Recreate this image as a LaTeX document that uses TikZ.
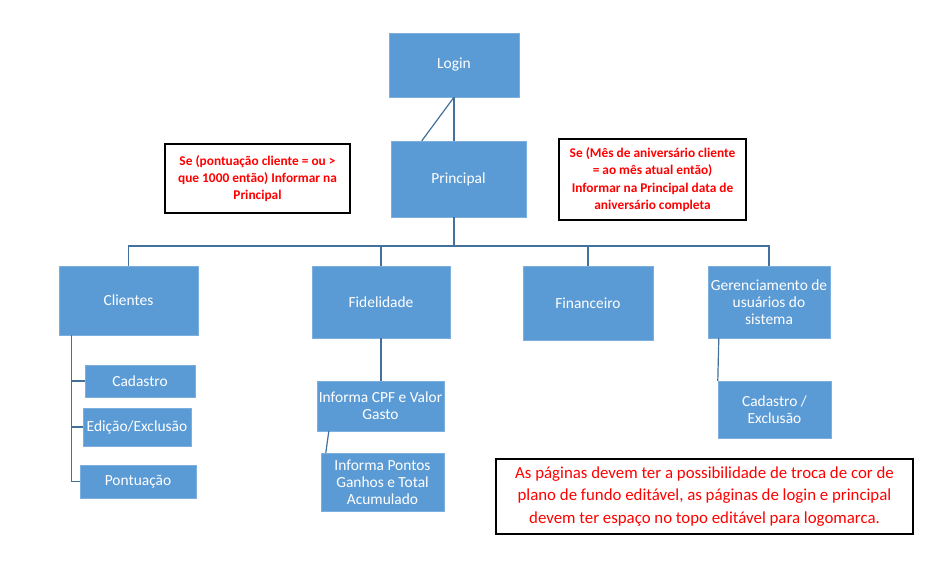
\documentclass[tikz,border=0pt]{standalone}
\usepackage{fontspec}
\setmainfont{Carlito}
\usetikzlibrary{positioning}
\definecolor{boxblue}{HTML}{5B9BD5}
\definecolor{lineblue}{HTML}{41719C}
\tikzset{x=1bp, y=-1bp,
  sz/.style 2 args={minimum width=#1bp, minimum height=#2bp},
  box/.style={fill=boxblue, draw=boxblue!80!white, text=white, align=center, inner sep=0pt, font=\fontsize{15.5}{17}\selectfont},
  note/.style={draw=black, line width=1.1bp, text=red, align=center, inner sep=0pt, font=\bfseries\fontsize{13.4}{17.4}\selectfont},
  bignote/.style={note, font=\fontsize{16.9}{22.5}\selectfont},
  link/.style={draw=lineblue, line width=1.2bp}}

\begin{document}
\begin{tikzpicture}
      \path[fill=white] (0,0) rectangle (951,567);
      \node[box, sz={130}{64}] (L) at (454,65) {Login};
      \node[box, sz={135}{76}] (P) at (458.5,179) {Principal};
      \node[note, sz={185}{69}] (N1) at (257.5,178.5) {Se (pontuação cliente = ou >\\que 1000 então) Informar na\\Principal};
      \node[note, sz={187}{81}] (N2) at (652.5,179.5) {Se (Mês de aniversário cliente\\= ao mês atual então)\\Informar na Principal data de\\aniversário completa};

      \node[box, sz={139}{69}] (C) at (128.5,300.5) {Clientes};
      \node[box, sz={138}{72}] (F) at (381,302) {Fidelidade};
      \node[box, sz={130}{74}] (Fin) at (588,303) {Financeiro};
      \node[box, sz={122}{72}] (G) at (769,302) {Gerenciamento de\\usuários do\\sistema};

      \node[box, sz={110}{32}] (Cad) at (140,381) {Cadastro};
      \node[box, sz={108}{38}] (Ed) at (137,427) {Edição/Exclusão};
      \node[box, sz={116}{33}] (Pt) at (138,481.5) {Pontuação};
      \node[box, sz={127}{50}] (CPF) at (380.5,406) {Informa CPF e Valor\\Gasto};
      \node[box, sz={123}{58}] (PG) at (382.5,482) {Informa Pontos\\Ganhos e Total\\Acumulado};
      \node[box, sz={113}{57}] (GC) at (774.5,409.5) {Cadastro /\\Exclusão};

      \node[bignote, sz={417}{75}] (N3) at (704.5,496.5) {As páginas devem ter a possibilidade de troca de cor de\\plano de fundo editável, as páginas de login e principal\\devem ter espaço no topo editável para logomarca.};

      \coordinate (LP) at ([xshift=31bp]P.north west);
      \coordinate (B) at (454,246);
      \coordinate (S) at ([xshift=13bp]C.south west);

      \draw[link] (L.south) -- (L.south |- P.north);
      \draw[link] (L.south) -- (LP);
      \draw[link] (L.south |- P.south) -- (B);
      \foreach \n in {C,F,Fin,G}
        \draw[link] (B) -| (\n.north);
      \foreach \n in {Cad,Ed,Pt}
        \draw[link] (S) |- (\n.west);
      \draw[link] (F.south) -- (F.south |- CPF.north);
      \draw[link] ([xshift=12bp]CPF.south west) -- ([xshift=5bp]PG.north west);
      \draw[link] ([xshift=11bp]G.south west) -- (GC.north west);
\end{tikzpicture}
\end{document}
